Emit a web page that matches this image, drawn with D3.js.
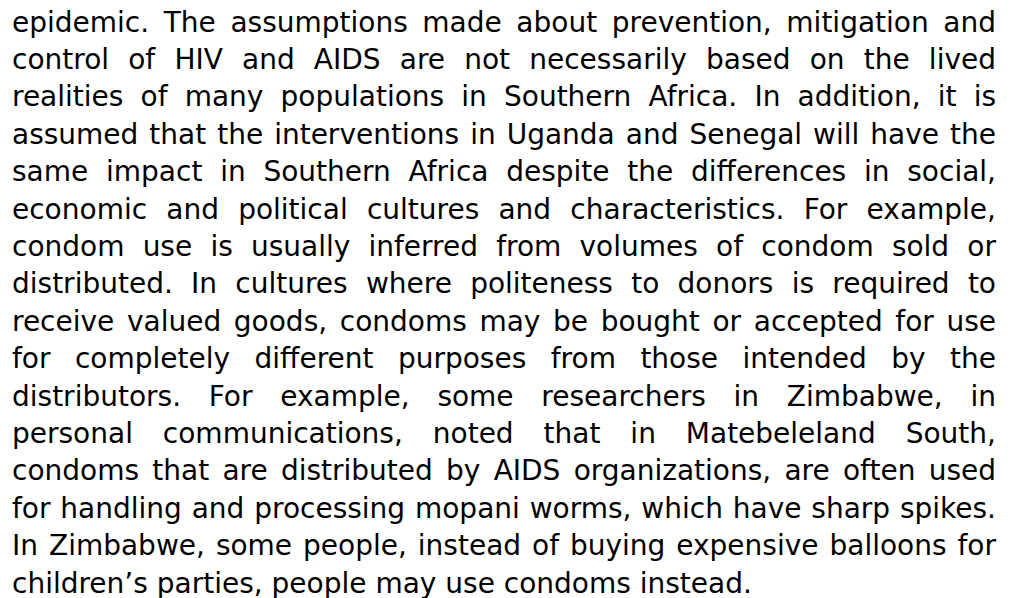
<!DOCTYPE html>
<html>
<head>
<meta charset="utf-8">
<script src="https://cdn.jsdelivr.net/npm/d3@7"></script>
<style>
body{margin:0;background:#fff;}
</style>
</head>
<body>
<svg id="svg" width="1012" height="598"></svg>
<script>
var lines=[
 "epidemic. The assumptions made about prevention, mitigation and",
 "control of HIV and AIDS are not necessarily based on the lived",
 "realities of many populations in Southern Africa. In addition, it is",
 "assumed that the interventions in Uganda and Senegal will have the",
 "same impact in Southern Africa despite the differences in social,",
 "economic and political cultures and characteristics. For example,",
 "condom use is usually inferred from volumes of condom sold or",
 "distributed. In cultures where politeness to donors is required to",
 "receive valued goods, condoms may be bought or accepted for use",
 "for completely different purposes from those intended by the",
 "distributors. For example, some researchers in Zimbabwe, in",
 "personal communications, noted that in Matebeleland South,",
 "condoms that are distributed by AIDS organizations, are often used",
 "for handling and processing mopani worms, which have sharp spikes.",
 "In Zimbabwe, some people, instead of buying expensive balloons for",
 "children\u2019s parties, people may use condoms instead."
];
// last line is left aligned, the rest justified
var justified=lines.map((d,i)=>i<lines.length-1);

var marginLeft=12, right=996, firstBase=31.5, lineGap=37.4;

var svg=d3.select("#svg");
var y=d3.scalePoint().domain(d3.range(lines.length)).range([firstBase,firstBase+lineGap*(lines.length-1)]);

lines.forEach((line,i)=>{
    var words=line.split(" ");
    var g=svg.append("g").attr("transform","translate(0,"+y(i)+")");
    var texts=g.selectAll("text").data(words).enter().append("text")
        .style("font-family","'DejaVu Sans'")
        .style("font-size","28px")
        .style("fill","#000")
        .text(d=>d);
    var widths=texts.nodes().map(n=>n.getComputedTextLength());
    var total=d3.sum(widths);
    var space=8.9;
    if (justified[i] && words.length>1) space=(right-marginLeft-total)/(words.length-1);
    var x=marginLeft;
    texts.attr("x",(d,j)=>{var p=x; x+=widths[j]+space; return p;});
});
</script>
</body>
</html>
